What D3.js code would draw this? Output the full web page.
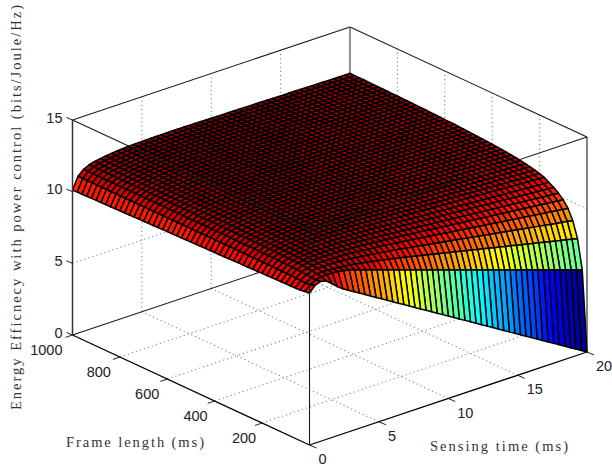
<!DOCTYPE html>
<html>
<head>
<meta charset="utf-8">
<script src="https://cdn.jsdelivr.net/npm/d3@7"></script>
<style>
  html, body { margin: 0; padding: 0; background: #fff; }
  svg { display: block; }
</style>
</head>
<body>
<svg id="chart" width="612" height="468"></svg>
<script>
const sensingTicks = [0, 5, 10, 15, 20];
const frameTicks = [200, 400, 600, 800, 1000];
const energyTicks = [0, 5, 10, 15];

const sensingTimes = [0,0.4,0.8,1.2,1.6,2,2.4,2.8,3.2,3.6,4,4.4,4.8,5.2,5.6,6,6.4,6.8,7.2,7.6,8,8.4,8.8,9.2,9.6,10,10.4,10.8,11.2,11.6,12,12.4,12.8,13.2,13.6,14,14.4,14.8,15.2,15.6,16,16.4,16.8,17.2,17.6,18,18.4,18.8,19.2,19.6,20];
const frameLengths = [0,20,40,60,80,100,120,140,160,180,200,220,240,260,280,300,320,340,360,380,400,420,440,460,480,500,520,540,560,580,600,620,640,660,680,700,720,740,760,780,800,820,840,860,880,900,920,940,960,980,1000];

// energy efficiency, one row per frame length, one column per sensing time
const energy = [
[10.6,11.0,11.15,11.05,10.75,10.4,10.12,9.89,9.66,9.43,9.2,8.97,8.74,8.51,8.28,8.05,7.82,7.59,7.36,7.13,6.9,6.67,6.44,6.21,5.98,5.75,5.52,5.29,5.06,4.83,4.6,4.37,4.14,3.91,3.68,3.45,3.22,2.99,2.76,2.53,2.3,2.07,1.84,1.61,1.38,1.15,0.92,0.69,0.46,0.23,0],
[10.55,10.9,11.1,11.2,11.22,11.2,11.15,11.1,11.02,10.89,10.76,10.63,10.5,10.37,10.24,10.11,9.98,9.85,9.72,9.59,9.46,9.33,9.2,9.07,8.94,8.81,8.68,8.55,8.42,8.29,8.16,8.03,7.9,7.77,7.64,7.51,7.38,7.25,7.12,6.99,6.86,6.73,6.6,6.47,6.34,6.21,6.08,5.95,5.82,5.69,5.56],
[10.5,10.86,11.12,11.24,11.25,11.24,11.21,11.17,11.13,11.08,11.02,10.95,10.88,10.81,10.73,10.65,10.57,10.49,10.42,10.33,10.24,10.15,10.06,9.98,9.89,9.8,9.71,9.62,9.54,9.45,9.36,9.27,9.18,9.1,9.01,8.92,8.83,8.74,8.66,8.57,8.48,8.39,8.3,8.22,8.13,8.04,7.95,7.86,7.78,7.69,7.6],
[10.49,10.88,11.17,11.3,11.34,11.35,11.34,11.33,11.3,11.28,11.24,11.19,11.15,11.09,11.04,10.98,10.92,10.87,10.81,10.75,10.68,10.61,10.55,10.48,10.42,10.35,10.28,10.22,10.15,10.09,10.02,9.95,9.89,9.82,9.76,9.69,9.62,9.56,9.49,9.43,9.36,9.29,9.23,9.16,9.1,9.03,8.96,8.9,8.83,8.77,8.7],
[10.48,10.9,11.2,11.34,11.39,11.42,11.43,11.43,11.41,11.4,11.38,11.35,11.32,11.27,11.23,11.19,11.15,11.11,11.06,11.01,10.96,10.91,10.86,10.8,10.75,10.7,10.65,10.6,10.54,10.49,10.44,10.39,10.34,10.28,10.23,10.18,10.13,10.08,10.02,9.97,9.92,9.87,9.82,9.76,9.71,9.66,9.61,9.56,9.5,9.45,9.4],
[10.48,10.91,11.21,11.37,11.43,11.47,11.48,11.49,11.49,11.48,11.47,11.45,11.42,11.39,11.36,11.33,11.29,11.26,11.23,11.18,11.14,11.1,11.05,11.01,10.97,10.93,10.88,10.84,10.8,10.75,10.71,10.67,10.62,10.58,10.54,10.5,10.45,10.41,10.37,10.32,10.28,10.24,10.19,10.15,10.11,10.07,10.02,9.98,9.94,9.89,9.85],
[10.47,10.91,11.23,11.39,11.45,11.5,11.52,11.53,11.53,11.54,11.53,11.51,11.5,11.47,11.44,11.42,11.39,11.36,11.33,11.3,11.26,11.22,11.19,11.15,11.11,11.08,11.04,11,10.96,10.93,10.89,10.85,10.82,10.78,10.74,10.71,10.67,10.63,10.59,10.56,10.52,10.48,10.45,10.41,10.37,10.34,10.3,10.26,10.22,10.19,10.15],
[10.46,10.92,11.24,11.4,11.47,11.52,11.55,11.57,11.57,11.58,11.58,11.57,11.56,11.53,11.51,11.49,11.47,11.45,11.42,11.39,11.36,11.33,11.3,11.26,11.23,11.2,11.17,11.14,11.1,11.07,11.04,11.01,10.98,10.94,10.91,10.88,10.85,10.82,10.78,10.75,10.72,10.69,10.66,10.62,10.59,10.56,10.53,10.5,10.46,10.43,10.4],
[10.45,10.92,11.24,11.42,11.49,11.54,11.57,11.59,11.61,11.62,11.62,11.61,11.6,11.59,11.57,11.55,11.53,11.51,11.5,11.47,11.44,11.41,11.38,11.36,11.33,11.3,11.27,11.24,11.22,11.19,11.16,11.13,11.1,11.08,11.05,11.02,10.99,10.96,10.94,10.91,10.88,10.85,10.82,10.8,10.77,10.74,10.71,10.68,10.66,10.63,10.6],
[10.44,10.93,11.25,11.43,11.5,11.56,11.6,11.62,11.64,11.65,11.66,11.66,11.65,11.64,11.62,11.61,11.6,11.58,11.57,11.54,11.52,11.5,11.47,11.45,11.42,11.4,11.38,11.35,11.33,11.3,11.28,11.26,11.23,11.21,11.18,11.16,11.14,11.11,11.09,11.06,11.04,11.02,10.99,10.97,10.94,10.92,10.9,10.87,10.85,10.82,10.8],
[10.44,10.93,11.26,11.43,11.51,11.57,11.61,11.64,11.66,11.67,11.68,11.68,11.68,11.67,11.65,11.64,11.63,11.62,11.61,11.59,11.56,11.54,11.52,11.5,11.48,11.46,11.43,11.41,11.39,11.37,11.35,11.32,11.3,11.28,11.26,11.24,11.22,11.19,11.17,11.15,11.13,11.11,11.08,11.06,11.04,11.02,11,10.98,10.95,10.93,10.91],
[10.43,10.93,11.26,11.44,11.52,11.58,11.62,11.65,11.67,11.69,11.7,11.7,11.7,11.69,11.68,11.67,11.66,11.65,11.64,11.62,11.6,11.58,11.56,11.54,11.52,11.5,11.48,11.46,11.44,11.42,11.4,11.38,11.36,11.34,11.32,11.3,11.28,11.26,11.24,11.22,11.2,11.18,11.16,11.14,11.12,11.1,11.08,11.06,11.04,11.02,11],
[10.42,10.93,11.26,11.44,11.53,11.59,11.63,11.66,11.68,11.7,11.72,11.72,11.72,11.71,11.7,11.69,11.68,11.68,11.67,11.65,11.63,11.61,11.59,11.57,11.56,11.54,11.52,11.5,11.48,11.46,11.45,11.43,11.41,11.39,11.37,11.35,11.33,11.32,11.3,11.28,11.26,11.24,11.22,11.2,11.19,11.17,11.15,11.13,11.11,11.09,11.08],
[10.41,10.93,11.27,11.45,11.53,11.59,11.64,11.67,11.69,11.72,11.73,11.73,11.73,11.73,11.72,11.71,11.71,11.7,11.69,11.68,11.66,11.64,11.62,11.61,11.59,11.57,11.56,11.54,11.52,11.5,11.49,11.47,11.45,11.44,11.42,11.4,11.38,11.37,11.35,11.33,11.32,11.3,11.28,11.26,11.25,11.23,11.21,11.2,11.18,11.16,11.14],
[10.4,10.93,11.27,11.45,11.54,11.6,11.64,11.68,11.7,11.73,11.74,11.74,11.75,11.74,11.74,11.73,11.72,11.72,11.71,11.7,11.68,11.66,11.65,11.63,11.62,11.6,11.58,11.57,11.55,11.54,11.52,11.5,11.49,11.47,11.46,11.44,11.42,11.41,11.39,11.38,11.36,11.34,11.33,11.31,11.3,11.28,11.26,11.25,11.23,11.22,11.2],
[10.4,10.94,11.27,11.46,11.54,11.6,11.65,11.69,11.71,11.74,11.75,11.76,11.76,11.76,11.75,11.75,11.74,11.74,11.73,11.72,11.7,11.69,11.67,11.66,11.64,11.63,11.61,11.6,11.58,11.57,11.55,11.54,11.52,11.51,11.49,11.48,11.46,11.45,11.43,11.42,11.4,11.39,11.37,11.36,11.34,11.33,11.31,11.3,11.28,11.27,11.25],
[10.39,10.94,11.27,11.46,11.54,11.61,11.66,11.69,11.72,11.74,11.76,11.76,11.77,11.77,11.76,11.76,11.75,11.75,11.75,11.73,11.72,11.7,11.69,11.68,11.66,11.65,11.63,11.62,11.61,11.59,11.58,11.56,11.55,11.53,11.52,11.51,11.49,11.48,11.46,11.45,11.44,11.42,11.41,11.39,11.38,11.37,11.35,11.34,11.32,11.31,11.29],
[10.38,10.94,11.27,11.46,11.55,11.61,11.66,11.7,11.72,11.75,11.77,11.77,11.78,11.78,11.77,11.77,11.77,11.76,11.76,11.75,11.73,11.72,11.71,11.69,11.68,11.67,11.65,11.64,11.63,11.61,11.6,11.59,11.57,11.56,11.55,11.53,11.52,11.51,11.49,11.48,11.47,11.45,11.44,11.43,11.41,11.4,11.39,11.37,11.36,11.35,11.33],
[10.37,10.94,11.27,11.46,11.55,11.62,11.66,11.7,11.73,11.76,11.77,11.78,11.79,11.79,11.78,11.78,11.78,11.78,11.77,11.76,11.75,11.74,11.72,11.71,11.7,11.68,11.67,11.66,11.65,11.63,11.62,11.61,11.6,11.58,11.57,11.56,11.55,11.53,11.52,11.51,11.5,11.48,11.47,11.46,11.45,11.43,11.42,11.41,11.4,11.38,11.37],
[10.36,10.94,11.28,11.46,11.55,11.62,11.67,11.71,11.73,11.76,11.78,11.79,11.8,11.79,11.79,11.79,11.79,11.79,11.78,11.77,11.76,11.75,11.74,11.72,11.71,11.7,11.69,11.68,11.66,11.65,11.64,11.63,11.62,11.6,11.59,11.58,11.57,11.56,11.54,11.53,11.52,11.51,11.5,11.48,11.47,11.46,11.45,11.44,11.42,11.41,11.4],
[10.36,10.94,11.28,11.47,11.55,11.62,11.67,11.71,11.74,11.77,11.79,11.79,11.8,11.8,11.8,11.8,11.8,11.8,11.79,11.78,11.77,11.76,11.75,11.74,11.73,11.72,11.7,11.69,11.68,11.67,11.66,11.65,11.64,11.62,11.61,11.6,11.59,11.58,11.57,11.56,11.54,11.53,11.52,11.51,11.5,11.49,11.48,11.46,11.45,11.44,11.43],
[10.35,10.94,11.28,11.47,11.56,11.63,11.67,11.71,11.74,11.77,11.79,11.8,11.81,11.81,11.81,11.81,11.81,11.8,11.8,11.79,11.78,11.77,11.76,11.75,11.74,11.73,11.72,11.71,11.69,11.68,11.67,11.66,11.65,11.64,11.63,11.62,11.61,11.6,11.59,11.57,11.56,11.55,11.54,11.53,11.52,11.51,11.5,11.49,11.48,11.47,11.45],
[10.34,10.94,11.28,11.47,11.56,11.63,11.68,11.72,11.75,11.78,11.8,11.81,11.82,11.81,11.81,11.81,11.81,11.81,11.81,11.8,11.79,11.78,11.77,11.76,11.75,11.74,11.73,11.72,11.71,11.7,11.69,11.68,11.67,11.66,11.65,11.64,11.63,11.62,11.6,11.59,11.58,11.57,11.56,11.55,11.54,11.53,11.52,11.51,11.5,11.49,11.48],
[10.33,10.94,11.28,11.47,11.56,11.63,11.68,11.72,11.75,11.78,11.8,11.81,11.82,11.82,11.82,11.82,11.82,11.82,11.82,11.81,11.8,11.79,11.78,11.77,11.76,11.75,11.74,11.73,11.72,11.71,11.7,11.69,11.68,11.67,11.66,11.65,11.64,11.63,11.62,11.61,11.6,11.59,11.58,11.57,11.56,11.55,11.54,11.53,11.52,11.51,11.5],
[10.32,10.94,11.28,11.47,11.56,11.63,11.68,11.72,11.75,11.78,11.8,11.81,11.82,11.83,11.83,11.83,11.83,11.83,11.83,11.82,11.81,11.8,11.79,11.78,11.77,11.76,11.75,11.74,11.73,11.72,11.71,11.7,11.69,11.68,11.67,11.66,11.65,11.64,11.64,11.63,11.62,11.61,11.6,11.59,11.58,11.57,11.56,11.55,11.54,11.53,11.52],
[10.32,10.94,11.28,11.47,11.56,11.63,11.68,11.73,11.76,11.79,11.81,11.82,11.83,11.83,11.83,11.83,11.83,11.83,11.83,11.83,11.82,11.81,11.8,11.79,11.78,11.77,11.76,11.75,11.74,11.73,11.72,11.71,11.71,11.7,11.69,11.68,11.67,11.66,11.65,11.64,11.63,11.62,11.61,11.6,11.6,11.59,11.58,11.57,11.56,11.55,11.54],
[10.31,10.94,11.28,11.47,11.56,11.64,11.69,11.73,11.76,11.79,11.81,11.82,11.83,11.83,11.84,11.84,11.84,11.84,11.84,11.83,11.82,11.81,11.8,11.8,11.79,11.78,11.77,11.76,11.75,11.74,11.73,11.72,11.72,11.71,11.7,11.69,11.68,11.67,11.66,11.65,11.64,11.64,11.63,11.62,11.61,11.6,11.59,11.58,11.57,11.56,11.56],
[10.3,10.94,11.28,11.47,11.57,11.64,11.69,11.73,11.76,11.79,11.81,11.83,11.84,11.84,11.84,11.84,11.84,11.84,11.84,11.84,11.83,11.82,11.81,11.8,11.79,11.79,11.78,11.77,11.76,11.75,11.74,11.73,11.73,11.72,11.71,11.7,11.69,11.68,11.67,11.66,11.66,11.65,11.64,11.63,11.62,11.61,11.6,11.6,11.59,11.58,11.57],
[10.29,10.94,11.28,11.48,11.57,11.64,11.69,11.73,11.76,11.8,11.82,11.83,11.84,11.84,11.84,11.85,11.85,11.85,11.85,11.84,11.83,11.83,11.82,11.81,11.8,11.79,11.78,11.78,11.77,11.76,11.75,11.74,11.73,11.73,11.72,11.71,11.7,11.69,11.68,11.68,11.67,11.66,11.65,11.64,11.63,11.63,11.62,11.61,11.6,11.59,11.59],
[10.28,10.94,11.28,11.48,11.57,11.64,11.69,11.73,11.77,11.8,11.82,11.83,11.84,11.85,11.85,11.85,11.85,11.85,11.86,11.85,11.84,11.83,11.82,11.82,11.81,11.8,11.79,11.78,11.78,11.77,11.76,11.75,11.74,11.74,11.73,11.72,11.71,11.7,11.7,11.69,11.68,11.67,11.66,11.66,11.65,11.64,11.63,11.62,11.62,11.61,11.6],
[10.28,10.94,11.28,11.48,11.57,11.64,11.69,11.74,11.77,11.8,11.82,11.84,11.85,11.85,11.85,11.85,11.86,11.86,11.86,11.85,11.85,11.84,11.83,11.82,11.82,11.81,11.8,11.79,11.78,11.78,11.77,11.76,11.75,11.75,11.74,11.73,11.72,11.71,11.71,11.7,11.69,11.68,11.68,11.67,11.66,11.65,11.64,11.64,11.63,11.62,11.61],
[10.27,10.94,11.29,11.48,11.57,11.64,11.7,11.74,11.77,11.8,11.83,11.84,11.85,11.85,11.86,11.86,11.86,11.86,11.86,11.86,11.85,11.84,11.84,11.83,11.82,11.81,11.81,11.8,11.79,11.78,11.78,11.77,11.76,11.75,11.75,11.74,11.73,11.72,11.72,11.71,11.7,11.69,11.69,11.68,11.67,11.66,11.66,11.65,11.64,11.63,11.63],
[10.26,10.94,11.29,11.48,11.57,11.64,11.7,11.74,11.77,11.81,11.83,11.84,11.85,11.86,11.86,11.86,11.86,11.87,11.87,11.86,11.85,11.85,11.84,11.83,11.82,11.82,11.81,11.8,11.8,11.79,11.78,11.77,11.77,11.76,11.75,11.75,11.74,11.73,11.72,11.72,11.71,11.7,11.69,11.69,11.68,11.67,11.66,11.66,11.65,11.64,11.64],
[10.25,10.94,11.29,11.48,11.57,11.64,11.7,11.74,11.77,11.81,11.83,11.84,11.85,11.86,11.86,11.86,11.87,11.87,11.87,11.87,11.86,11.85,11.85,11.84,11.83,11.83,11.82,11.81,11.8,11.8,11.79,11.78,11.78,11.77,11.77,11.76,11.75,11.74,11.74,11.73,11.72,11.72,11.71,11.7,11.7,11.69,11.68,11.67,11.67,11.66,11.65],
[10.24,10.94,11.29,11.48,11.57,11.65,11.7,11.74,11.78,11.81,11.83,11.85,11.86,11.86,11.87,11.87,11.87,11.87,11.88,11.87,11.87,11.86,11.85,11.85,11.84,11.83,11.83,11.82,11.81,11.81,11.8,11.79,11.79,11.78,11.77,11.77,11.76,11.75,11.75,11.74,11.73,11.73,11.72,11.71,11.71,11.7,11.69,11.69,11.68,11.67,11.67],
[10.24,10.94,11.29,11.48,11.57,11.65,11.7,11.74,11.78,11.81,11.83,11.85,11.86,11.86,11.87,11.87,11.88,11.88,11.88,11.88,11.87,11.86,11.86,11.85,11.84,11.84,11.83,11.82,11.82,11.81,11.8,11.8,11.79,11.79,11.78,11.77,11.77,11.76,11.75,11.75,11.74,11.73,11.73,11.72,11.71,11.71,11.7,11.69,11.69,11.68,11.68],
[10.23,10.94,11.29,11.48,11.57,11.65,11.7,11.74,11.78,11.81,11.84,11.85,11.86,11.87,11.87,11.87,11.88,11.88,11.88,11.88,11.87,11.87,11.86,11.86,11.85,11.84,11.84,11.83,11.82,11.82,11.81,11.8,11.8,11.79,11.79,11.78,11.77,11.77,11.76,11.75,11.75,11.74,11.74,11.73,11.72,11.72,11.71,11.7,11.7,11.69,11.68],
[10.22,10.94,11.29,11.48,11.58,11.65,11.7,11.75,11.78,11.81,11.84,11.85,11.86,11.87,11.87,11.87,11.88,11.88,11.89,11.88,11.87,11.87,11.86,11.86,11.85,11.85,11.84,11.83,11.83,11.82,11.81,11.81,11.8,11.8,11.79,11.78,11.78,11.77,11.76,11.76,11.75,11.75,11.74,11.73,11.73,11.72,11.72,11.71,11.7,11.7,11.69],
[10.21,10.94,11.29,11.48,11.58,11.65,11.7,11.75,11.78,11.82,11.84,11.85,11.86,11.87,11.87,11.88,11.88,11.88,11.89,11.89,11.88,11.87,11.87,11.86,11.86,11.85,11.84,11.84,11.83,11.83,11.82,11.81,11.81,11.8,11.8,11.79,11.78,11.78,11.77,11.77,11.76,11.75,11.75,11.74,11.74,11.73,11.72,11.72,11.71,11.71,11.7],
[10.2,10.94,11.29,11.48,11.58,11.65,11.7,11.75,11.78,11.82,11.84,11.85,11.87,11.87,11.88,11.88,11.88,11.89,11.89,11.89,11.88,11.88,11.87,11.86,11.86,11.85,11.85,11.84,11.83,11.83,11.82,11.82,11.81,11.81,11.8,11.79,11.79,11.78,11.78,11.77,11.76,11.76,11.75,11.75,11.74,11.73,11.73,11.72,11.72,11.71,11.71],
[10.2,10.94,11.29,11.48,11.58,11.65,11.71,11.75,11.78,11.82,11.84,11.86,11.87,11.87,11.88,11.88,11.89,11.89,11.9,11.89,11.89,11.88,11.87,11.87,11.86,11.86,11.85,11.85,11.84,11.83,11.83,11.82,11.82,11.81,11.81,11.8,11.79,11.79,11.78,11.78,11.77,11.77,11.76,11.75,11.75,11.74,11.74,11.73,11.73,11.72,11.72],
[10.19,10.94,11.29,11.48,11.58,11.65,11.71,11.75,11.79,11.82,11.84,11.86,11.87,11.87,11.88,11.88,11.89,11.89,11.9,11.89,11.89,11.88,11.88,11.87,11.87,11.86,11.85,11.85,11.84,11.84,11.83,11.83,11.82,11.82,11.81,11.81,11.8,11.79,11.79,11.78,11.78,11.77,11.76,11.76,11.75,11.75,11.74,11.74,11.73,11.73,11.72],
[10.18,10.94,11.29,11.48,11.58,11.65,11.71,11.75,11.79,11.82,11.84,11.86,11.87,11.88,11.88,11.89,11.89,11.89,11.9,11.9,11.89,11.88,11.88,11.87,11.87,11.86,11.86,11.85,11.85,11.84,11.84,11.83,11.82,11.82,11.81,11.81,11.8,11.8,11.79,11.79,11.78,11.77,11.77,11.76,11.76,11.75,11.75,11.74,11.74,11.73,11.73],
[10.17,10.94,11.29,11.48,11.58,11.65,11.71,11.75,11.79,11.82,11.85,11.86,11.87,11.88,11.88,11.89,11.89,11.9,11.9,11.9,11.89,11.89,11.88,11.88,11.87,11.87,11.86,11.86,11.85,11.85,11.84,11.84,11.83,11.82,11.82,11.81,11.81,11.8,11.8,11.79,11.79,11.78,11.78,11.77,11.77,11.76,11.76,11.75,11.75,11.74,11.73],
[10.16,10.94,11.29,11.48,11.58,11.65,11.71,11.75,11.79,11.82,11.85,11.86,11.87,11.88,11.88,11.89,11.89,11.9,11.9,11.9,11.89,11.89,11.88,11.88,11.87,11.87,11.86,11.86,11.85,11.85,11.84,11.84,11.83,11.83,11.82,11.82,11.81,11.81,11.8,11.8,11.79,11.79,11.78,11.78,11.77,11.77,11.76,11.76,11.75,11.75,11.74],
[10.16,10.94,11.29,11.48,11.58,11.65,11.71,11.75,11.79,11.82,11.85,11.86,11.87,11.88,11.89,11.89,11.89,11.9,11.91,11.9,11.9,11.89,11.89,11.88,11.88,11.87,11.87,11.86,11.86,11.85,11.85,11.84,11.84,11.83,11.83,11.82,11.82,11.81,11.81,11.8,11.8,11.79,11.79,11.78,11.78,11.77,11.77,11.76,11.76,11.75,11.74],
[10.15,10.94,11.29,11.49,11.58,11.65,11.71,11.75,11.79,11.83,11.85,11.86,11.88,11.88,11.89,11.89,11.89,11.9,11.91,11.91,11.9,11.89,11.89,11.88,11.88,11.88,11.87,11.87,11.86,11.86,11.85,11.85,11.84,11.84,11.83,11.83,11.82,11.82,11.81,11.81,11.8,11.8,11.79,11.79,11.78,11.78,11.77,11.77,11.76,11.76,11.75],
[10.14,10.94,11.29,11.49,11.58,11.65,11.71,11.75,11.79,11.83,11.85,11.87,11.88,11.88,11.89,11.89,11.9,11.9,11.91,11.91,11.9,11.9,11.89,11.89,11.88,11.88,11.87,11.87,11.86,11.86,11.85,11.85,11.84,11.84,11.83,11.83,11.82,11.82,11.81,11.81,11.8,11.8,11.79,11.79,11.78,11.78,11.77,11.77,11.76,11.76,11.76],
[10.13,10.94,11.29,11.49,11.58,11.66,11.71,11.76,11.79,11.83,11.85,11.87,11.88,11.88,11.89,11.89,11.9,11.9,11.91,11.91,11.9,11.9,11.89,11.89,11.88,11.88,11.87,11.87,11.87,11.86,11.86,11.85,11.85,11.84,11.84,11.83,11.83,11.82,11.82,11.81,11.81,11.8,11.8,11.79,11.79,11.78,11.78,11.77,11.77,11.76,11.76],
[10.12,10.94,11.29,11.49,11.58,11.66,11.71,11.76,11.79,11.83,11.85,11.87,11.88,11.89,11.89,11.89,11.9,11.91,11.92,11.91,11.91,11.9,11.9,11.89,11.89,11.88,11.88,11.87,11.87,11.86,11.86,11.85,11.85,11.84,11.84,11.84,11.83,11.83,11.82,11.82,11.81,11.81,11.8,11.8,11.79,11.79,11.78,11.78,11.77,11.77,11.76],
[10.11,10.95,11.3,11.49,11.59,11.66,11.72,11.76,11.8,11.83,11.85,11.87,11.88,11.89,11.9,11.9,11.9,11.91,11.92,11.91,11.91,11.9,11.9,11.89,11.89,11.88,11.88,11.87,11.87,11.87,11.86,11.86,11.85,11.85,11.84,11.84,11.83,11.83,11.82,11.82,11.81,11.81,11.8,11.8,11.79,11.79,11.78,11.78,11.77,11.77,11.77]
];

const svg = d3.select('#chart');

// oblique projection of the box: each data axis moves a point along a fixed screen direction
const originX = 309.5, originY = 445;
const sensingToX = d3.scaleLinear().domain([0, 20]).range([0, 277.5]);
const sensingToY = d3.scaleLinear().domain([0, 20]).range([0, -93]);
const frameToX = d3.scaleLinear().domain([0, 1000]).range([0, -237]);
const frameToY = d3.scaleLinear().domain([0, 1000]).range([0, -110]);
const energyToY = d3.scaleLinear().domain([0, 15]).range([0, -215]);

const project = (s, f, e) => [
    originX + sensingToX(s) + frameToX(f),
    originY + sensingToY(s) + frameToY(f) + energyToY(e)
];

// jet colormap, 64 steps like matlab
const clamp01 = (v) => Math.max(0, Math.min(1, v));
const jet = (v) => d3.rgb(
    255 * clamp01(1.5 - Math.abs(4 * v - 3)),
    255 * clamp01(1.5 - Math.abs(4 * v - 2)),
    255 * clamp01(1.5 - Math.abs(4 * v - 1))
).formatRgb();
const colors = d3.scaleQuantize().domain([0, 12]).range(d3.range(64).map((i) => jet((i + 0.5) / 64)));

const line = d3.line();
const drawEdge = (a, b, width = 1.1, stroke = '#1a1a1a') => {
    svg.append('path')
        .attr('d', line([project(...a), project(...b)]))
        .attr('fill', 'none')
        .attr('stroke', stroke)
        .attr('stroke-width', width);
};
const drawGrid = (a, b) => {
    svg.append('path')
        .attr('d', line([project(...a), project(...b)]))
        .attr('fill', 'none')
        .attr('stroke', '#888')
        .attr('stroke-width', 1.1)
        .attr('stroke-dasharray', '1.2 3');
};

// floor and back wall grids
sensingTicks.slice(1, -1).forEach((s) => {
    drawGrid([s, 0, 0], [s, 1000, 0]);
    drawGrid([s, 1000, 0], [s, 1000, 15]);
});
frameTicks.slice(0, -1).forEach((f) => {
    drawGrid([0, f, 0], [20, f, 0]);
    drawGrid([20, f, 0], [20, f, 15]);
});
energyTicks.slice(1, -1).forEach((e) => {
    drawGrid([0, 1000, e], [20, 1000, e]);
    drawGrid([20, 1000, e], [20, 0, e]);
});

// box edges behind the surface
drawEdge([0, 1000, 15], [20, 1000, 15]);
drawEdge([20, 1000, 15], [20, 0, 15]);
drawEdge([0, 1000, 0], [20, 1000, 0]);
drawEdge([20, 1000, 0], [20, 1000, 15], 1.3, '#555');

// surface cells, back to front
const cells = [];
for (let r = frameLengths.length - 2; r >= 0; r--) {
    for (let c = sensingTimes.length - 2; c >= 0; c--) {
        cells.push({ r, c });
    }
}
const corner = (r, c) => project(sensingTimes[c], frameLengths[r], energy[r][c]);
svg.append('g')
    .selectAll('path')
    .data(cells)
    .join('path')
    .attr('d', (d) => line([
        corner(d.r, d.c),
        corner(d.r, d.c + 1),
        corner(d.r + 1, d.c + 1),
        corner(d.r + 1, d.c)
    ]) + 'Z')
    .attr('fill', (d) => colors(energy[d.r][d.c]))
    .attr('stroke', '#000')
    .attr('stroke-width', 1.5)
    .attr('stroke-linejoin', 'round');

// front box edges go over the surface
drawEdge([0, 1000, 15], [0, 0, 15]);
drawEdge([0, 0, 15], [20, 0, 15]);
drawEdge([0, 1000, 0], [0, 1000, 15], 1.5, '#333');
drawEdge([20, 0, 0], [20, 0, 15]);
drawEdge([0, 0, 0], [0, 0, 15]);
drawEdge([0, 1000, 0], [0, 0, 0], 1.3, '#000');
drawEdge([0, 0, 0], [20, 0, 0], 1.3, '#000');

// ticks and tick labels
const tick = (p, dx, dy) => {
    svg.append('line')
        .attr('x1', p[0]).attr('y1', p[1])
        .attr('x2', p[0] + dx).attr('y2', p[1] + dy)
        .attr('stroke', '#222')
        .attr('stroke-width', 1);
};
const label = (text, x, y, anchor) => {
    svg.append('text')
        .attr('x', x).attr('y', y)
        .attr('text-anchor', anchor)
        .attr('dominant-baseline', 'central')
        .attr('font-family', '"Liberation Sans", Arial, sans-serif')
        .attr('font-size', 14.5)
        .attr('fill', '#222')
        .text(text);
};

energyTicks.forEach((e) => {
    const p = project(0, 1000, e);
    tick(p, -6, -2.5);
    label(e, p[0] - 10, p[1] - 2.5, 'end');
});
// the labels drift a little further from the axis towards 1000
const frameLabelGap = d3.scaleLinear().domain([200, 1000]).range([6, 10]);
frameTicks.forEach((f) => {
    const p = project(0, f, 0);
    tick(p, -7, 2.4);
    label(f, p[0] - frameLabelGap(f), p[1] + 14.5, 'end');
});
sensingTicks.forEach((s) => {
    const p = project(s, 0, 0);
    tick(p, 7, 3);
    label(s, p[0] + 9, p[1] + 14, 'start');
});

// axis titles
const title = (text, x, y, length, rotate) => {
    svg.append('text')
        .attr('transform', `translate(${x},${y})` + (rotate ? ' rotate(-90)' : ''))
        .attr('textLength', length)
        .attr('lengthAdjust', 'spacing')
        .attr('font-family', '"Liberation Serif", "DejaVu Serif", serif')
        .attr('font-size', 14.5)
        .attr('fill', '#333')
        .text(text);
};
title('Frame length (ms)', 66, 447, 138, false);
title('Sensing time (ms)', 430, 451, 138, false);
title('Energy Efficnecy with power control (bits/Joule/Hz)', 21, 410, 405, true);
</script>
</body>
</html>
